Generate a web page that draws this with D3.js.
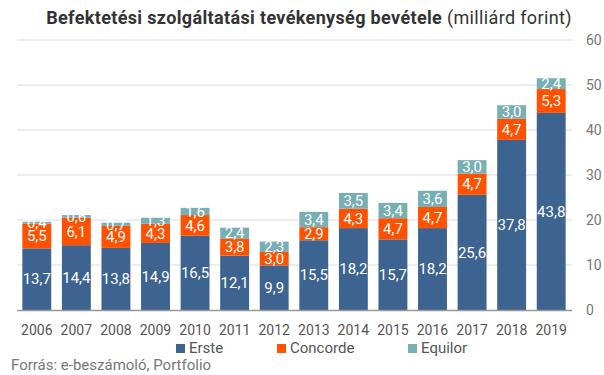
<!DOCTYPE html>
<html>
<head>
<meta charset="utf-8">
<script src="https://cdn.jsdelivr.net/npm/d3@7"></script>
<style>
  body { margin: 0; background: #fff; }
  svg { font-family: Roboto, "Noto Sans", sans-serif; }
</style>
</head>
<body>
<div id="chart"></div>
<script>
// data
var years = ["2006", "2007", "2008", "2009", "2010", "2011", "2012", "2013", "2014", "2015", "2016", "2017", "2018", "2019"];
var erste = [13.7, 14.4, 13.8, 14.9, 16.5, 12.1, 9.9, 15.5, 18.2, 15.7, 18.2, 25.6, 37.8, 43.8];
var concorde = [5.5, 6.1, 4.9, 4.3, 4.6, 3.8, 3.0, 2.9, 4.3, 4.7, 4.7, 4.7, 4.7, 5.3];
var equilor = [0.4, 0.6, 0.7, 1.3, 1.6, 2.4, 2.3, 3.4, 3.5, 3.4, 3.6, 3.0, 3.0, 2.4];
var seriesNames = ["Erste", "Concorde", "Equilor"];
var colors = ["#3d6390", "#ff5100", "#77afb4"];
var yTicks = [0, 10, 20, 30, 40, 50, 60];

var W = 604, H = 375;
var svg = d3.select("#chart").append("svg").attr("width", W).attr("height", H);

var x = d3.scaleBand().domain(years).range([17, 571]).paddingInner(0.27).paddingOuter(0.135);
var y = d3.scaleLinear().domain([0, 60]).range([310, 40]);

var rows = years.map(function (yr, i) {
    return { year: yr, Erste: erste[i], Concorde: concorde[i], Equilor: equilor[i] };
});
var stack = d3.stack().keys(seriesNames)(rows);

// gridlines
svg.append("g")
    .selectAll("line")
    .data(yTicks.filter(function (d) { return d > 0; }))
    .join("line")
    .attr("x1", 17).attr("x2", 572)
    .attr("y1", function (d) { return y(d); })
    .attr("y2", function (d) { return y(d); })
    .attr("stroke", "#dcdcdc").attr("stroke-width", 1);

// right axis labels
svg.append("g")
    .selectAll("text")
    .data(yTicks)
    .join("text")
    .attr("x", 586)
    .attr("y", function (d) { return y(d); })
    .attr("dy", "0.35em")
    .attr("fill", "#777")
    .style("font-size", "14px")
    .text(function (d) { return d; });

// bars
var layers = svg.append("g")
    .selectAll("g")
    .data(stack)
    .join("g")
    .attr("fill", function (d, i) { return colors[i]; });

layers.selectAll("rect")
    .data(function (d) { return d; })
    .join("rect")
    .attr("x", function (d) { return x(d.data.year); })
    .attr("width", x.bandwidth())
    .attr("y", function (d) { return y(d[1]); })
    .attr("height", function (d) { return y(d[0]) - y(d[1]); });

// value labels
var fmt = function (v) { return v.toFixed(1).replace(".", ","); };
svg.append("g")
    .selectAll("g")
    .data(stack)
    .join("g")
    .selectAll("text")
    .data(function (d) { return d; })
    .join("text")
    .attr("x", function (d) { return x(d.data.year) + x.bandwidth() / 2; })
    .attr("y", function (d) { return (y(d[0]) + y(d[1])) / 2; })
    .attr("dy", "0.35em")
    .attr("text-anchor", "middle")
    .attr("fill", "#fff")
    .style("font-size", "15px")
    .text(function (d) { return fmt(d[1] - d[0]); });

// baseline
svg.append("line")
    .attr("x1", 17).attr("x2", 572)
    .attr("y1", 310.5).attr("y2", 310.5)
    .attr("stroke", "#999").attr("stroke-width", 1.5);

// x axis labels
svg.append("g")
    .selectAll("text")
    .data(years)
    .join("text")
    .attr("x", function (d) { return x(d) + x.bandwidth() / 2; })
    .attr("y", 335)
    .attr("text-anchor", "middle")
    .attr("fill", "#555")
    .style("font-size", "14px")
    .text(function (d) { return d; });

// legend
var legendX = [176, 277, 408];
var legend = svg.append("g")
    .selectAll("g")
    .data(seriesNames)
    .join("g")
    .attr("transform", function (d, i) { return "translate(" + legendX[i] + ",353)"; });
legend.append("rect")
    .attr("x", 0).attr("y", -9).attr("width", 9).attr("height", 9)
    .attr("fill", function (d, i) { return colors[i]; });
legend.append("text")
    .attr("x", 13).attr("y", 0)
    .attr("fill", "#555")
    .style("font-size", "15px")
    .text(function (d) { return d; });

// source
svg.append("text")
    .attr("x", 11).attr("y", 370)
    .attr("fill", "#777")
    .style("font-size", "15px")
    .text("Forrás: e-beszámoló, Portfolio");

// title
var title = svg.append("text")
    .attr("x", 309).attr("y", 24)
    .attr("text-anchor", "middle")
    .attr("fill", "#333")
    .style("font-size", "18px")
    .style("letter-spacing", "0.35px");
title.append("tspan").attr("font-weight", "bold").text("Befektetési szolgáltatási tevékenység bevétele");
title.append("tspan").text(" (milliárd forint)");
</script>
</body>
</html>
